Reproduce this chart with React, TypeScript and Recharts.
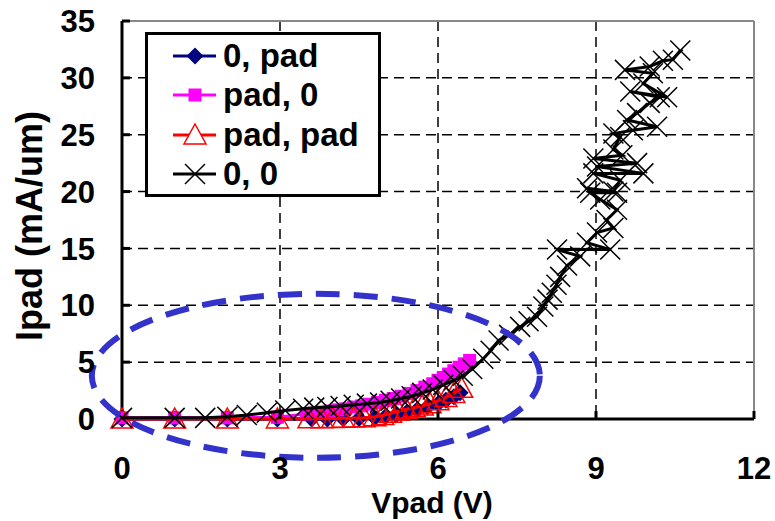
import React from 'react'
import { ScatterChart, Scatter, XAxis, YAxis, CartesianGrid, ReferenceLine, ReferenceDot, Legend } from 'recharts'

const xTicks = [0, 3, 6, 9, 12]
const yTicks = [0, 5, 10, 15, 20, 25, 30, 35]

// "0, pad"
const zeroPad = [
  { x: 0, y: 0 }, { x: 1, y: 0 }, { x: 2, y: 0 }, { x: 2.95, y: 0 },
  { x: 3.6, y: 0 }, { x: 3.9, y: 0 }, { x: 4.2, y: 0.02 }, { x: 4.5, y: 0.05 },
  { x: 4.8, y: 0.1 }, { x: 5.0, y: 0.2 }, { x: 5.2, y: 0.35 }, { x: 5.4, y: 0.55 },
  { x: 5.6, y: 0.8 }, { x: 5.8, y: 1.05 }, { x: 6.0, y: 1.35 }, { x: 6.15, y: 1.65 },
  { x: 6.3, y: 1.95 }, { x: 6.42, y: 2.3 },
]

// "pad, 0"
const padZero = [
  { x: 0, y: 0.1 }, { x: 1, y: 0.1 }, { x: 2, y: 0.1 }, { x: 2.95, y: 0.15 },
  { x: 3.5, y: 0.45 }, { x: 3.65, y: 0.5 }, { x: 3.8, y: 0.6 }, { x: 3.95, y: 0.7 },
  { x: 4.1, y: 0.8 }, { x: 4.25, y: 0.9 }, { x: 4.4, y: 1.05 }, { x: 4.55, y: 1.15 },
  { x: 4.7, y: 1.3 }, { x: 4.85, y: 1.45 }, { x: 5.0, y: 1.65 }, { x: 5.15, y: 1.8 },
  { x: 5.3, y: 2.0 }, { x: 5.45, y: 2.25 }, { x: 5.6, y: 2.5 }, { x: 5.75, y: 2.8 },
  { x: 5.9, y: 3.1 }, { x: 6.0, y: 3.4 }, { x: 6.1, y: 3.65 }, { x: 6.2, y: 3.95 },
  { x: 6.3, y: 4.25 }, { x: 6.4, y: 4.55 }, { x: 6.5, y: 4.85 }, { x: 6.6, y: 5.15 },
]

// "pad, pad"
const padPad = [
  { x: 0, y: 0 }, { x: 1, y: 0 }, { x: 2, y: 0 }, { x: 2.95, y: 0 },
  { x: 3.55, y: 0.02 }, { x: 3.8, y: 0.03 }, { x: 4.0, y: 0.05 }, { x: 4.2, y: 0.07 },
  { x: 4.4, y: 0.08 }, { x: 4.6, y: 0.12 }, { x: 4.8, y: 0.2 }, { x: 4.95, y: 0.3 },
  { x: 5.1, y: 0.5 }, { x: 5.25, y: 0.7 }, { x: 5.4, y: 0.85 }, { x: 5.55, y: 1.0 },
  { x: 5.7, y: 1.15 }, { x: 5.85, y: 1.35 }, { x: 6.0, y: 1.6 }, { x: 6.15, y: 1.9 },
  { x: 6.3, y: 2.25 }, { x: 6.45, y: 2.7 },
]

// "0, 0"
const zeroZero = [
  { x: 0, y: 0.1 }, { x: 1, y: 0.1 }, { x: 1.58, y: 0.1 }, { x: 2, y: 0.2 },
  { x: 2.37, y: 0.35 }, { x: 2.75, y: 0.55 }, { x: 3.1, y: 0.75 }, { x: 3.44, y: 0.9 },
  { x: 3.65, y: 1.0 }, { x: 3.9, y: 1.05 }, { x: 4.15, y: 1.15 }, { x: 4.4, y: 1.25 },
  { x: 4.65, y: 1.35 }, { x: 4.9, y: 1.45 }, { x: 5.1, y: 1.6 }, { x: 5.3, y: 1.8 },
  { x: 5.5, y: 2.0 }, { x: 5.7, y: 2.3 }, { x: 5.9, y: 2.6 }, { x: 6.1, y: 3.0 },
  { x: 6.3, y: 3.4 }, { x: 6.47, y: 3.8 }, { x: 6.65, y: 4.4 }, { x: 6.86, y: 5.3 },
  { x: 7.0, y: 6.0 }, { x: 7.15, y: 6.9 }, { x: 7.35, y: 7.4 }, { x: 7.56, y: 8.1 },
  { x: 7.72, y: 8.6 }, { x: 7.88, y: 9.0 }, { x: 8.0, y: 9.9 }, { x: 8.08, y: 10.5 },
  { x: 8.16, y: 11.1 }, { x: 8.25, y: 11.8 }, { x: 8.32, y: 12.5 }, { x: 8.45, y: 13.5 },
  { x: 8.7, y: 14.3 }, { x: 8.26, y: 14.9 }, { x: 9.27, y: 14.9 }, { x: 8.83, y: 15.5 },
  { x: 9.02, y: 16.4 }, { x: 9.33, y: 16.8 }, { x: 9.2, y: 17.5 }, { x: 9.4, y: 18.4 },
  { x: 9.08, y: 19.3 }, { x: 8.89, y: 19.9 }, { x: 9.4, y: 19.9 }, { x: 8.83, y: 20.3 },
  { x: 9.33, y: 20.0 }, { x: 9.46, y: 21.0 }, { x: 8.95, y: 21.6 }, { x: 9.9, y: 21.6 },
  { x: 9.02, y: 22.2 }, { x: 9.78, y: 22.5 }, { x: 8.95, y: 22.9 }, { x: 9.5, y: 23.2 },
  { x: 9.33, y: 23.7 }, { x: 9.46, y: 24.8 }, { x: 9.33, y: 25.1 }, { x: 9.7, y: 25.4 },
  { x: 10.16, y: 25.7 }, { x: 9.59, y: 26.3 }, { x: 9.78, y: 26.9 }, { x: 10.02, y: 27.8 },
  { x: 10.21, y: 28.3 }, { x: 9.65, y: 28.8 }, { x: 10.35, y: 28.3 }, { x: 9.9, y: 29.5 },
  { x: 10.08, y: 30.4 }, { x: 9.55, y: 30.7 }, { x: 10.02, y: 31.0 }, { x: 10.27, y: 31.5 },
  { x: 10.46, y: 31.6 }, { x: 10.6, y: 32.4 },
]

const FONT = "'Liberation Sans', Arial, sans-serif"
const font = { fontFamily: FONT, fontWeight: 700, fontSize: 31, fill: '#000' }

const NAVY = '#000080'
const MAGENTA = '#FF00FF'
const RED = '#FF0000'

const Diamond = ({ cx, cy }: any) => (
  <path d={`M${cx},${cy - 8.5}L${cx + 8.5},${cy}L${cx},${cy + 8.5}L${cx - 8.5},${cy}Z`} fill={NAVY} />
)
const Square = ({ cx, cy }: any) => <rect x={cx - 6.5} y={cy - 6.5} width={13} height={13} fill={MAGENTA} />
const Triangle = ({ cx, cy, fill = 'none' }: any) => (
  <path d={`M${cx},${cy - 11}L${cx + 11},${cy + 9}L${cx - 11},${cy + 9}Z`} fill={fill} stroke={RED} strokeWidth={1.5} />
)
const Cross = ({ cx, cy }: any) => (
  <path d={`M${cx - 10},${cy - 10}L${cx + 10},${cy + 10}M${cx + 10},${cy - 10}L${cx - 10},${cy + 10}`} stroke="#000" strokeWidth={1.5} />
)

const legendItems = [
  { name: '0, pad', color: NAVY, mark: (c: number) => <Diamond cx={c} cy={20} /> },
  { name: 'pad, 0', color: MAGENTA, mark: (c: number) => <Square cx={c} cy={20} /> },
  { name: 'pad, pad', color: RED, mark: (c: number) => <Triangle cx={c} cy={20} fill="#fff" /> },
  { name: '0, 0', color: '#000', mark: (c: number) => <Cross cx={c} cy={20} /> },
]

function LegendBox() {
  return (
    <div style={{ border: '3px solid #000', background: '#fff', boxSizing: 'border-box', width: 236, height: 165, paddingTop: 1 }}>
      {legendItems.map((it) => (
        <div key={it.name} style={{ display: 'flex', alignItems: 'center', height: 39.5 }}>
          <svg width={75} height={40} style={{ display: 'block' }}>
            <line x1={25} y1={20} x2={68} y2={20} stroke={it.color} strokeWidth={3} />
            {it.mark(47)}
          </svg>
          <span style={{ fontFamily: FONT, fontWeight: 700, fontSize: 33, lineHeight: '40px' }}>{it.name}</span>
        </div>
      ))}
    </div>
  )
}

const YTick = ({ x, y, payload }: any) => (
  <g>
    {payload.value !== 0 && <line x1={x} y1={y} x2={x + 8} y2={y} stroke="#000" strokeWidth={3} />}
    <text x={x - 27} y={y} dy="0.36em" textAnchor="end" style={font}>{payload.value}</text>
  </g>
)

const XTick = ({ x, y, payload }: any) => (
  <g>
    {payload.value !== 0 && <line x1={x} y1={y} x2={x} y2={y - 8} stroke="#000" strokeWidth={3} />}
    <text x={x} y={y + 49} dy="0.36em" textAnchor="middle" style={font}>{payload.value}</text>
  </g>
)

const Ellipse = ({ cx, cy }: any) => (
  <ellipse cx={cx} cy={cy} rx={224} ry={82} fill="none" stroke="#3333CC" strokeWidth={6} strokeDasharray="24 14" />
)

export default function App() {
  return (
    <div style={{ position: 'absolute', left: 0, top: 0, width: 775, height: 521, background: '#fff' }}>
      <ScatterChart width={775} height={521} margin={{ top: 21, right: 21, bottom: 0, left: 0 }}>
        <CartesianGrid stroke="#000" strokeWidth={1.5} strokeDasharray="10 6" />
        <ReferenceLine y={35} stroke="#888" strokeWidth={2} />
        <ReferenceLine x={12} stroke="#888" strokeWidth={2} />
        <XAxis
          type="number"
          dataKey="x"
          domain={[0, 12]}
          ticks={xTicks}
          height={102}
          tickSize={0}
          tickMargin={0}
          tickLine={false}
          axisLine={{ stroke: '#000', strokeWidth: 3 }}
          tick={<XTick />}
          label={{
            content: ({ viewBox }: any) => (
              <text x={viewBox.x + viewBox.width / 2 - 6} y={viewBox.y + 83} dy="0.36em" textAnchor="middle" style={{ ...font, fontSize: 30 }}>
                Vpad (V)
              </text>
            ),
          }}
        />
        <YAxis
          type="number"
          dataKey="y"
          domain={[0, 35]}
          ticks={yTicks}
          width={122}
          tickSize={0}
          tickMargin={0}
          tickLine={false}
          axisLine={{ stroke: '#000', strokeWidth: 3 }}
          tick={<YTick />}
          label={{
            content: ({ viewBox }: any) => {
              const cx = viewBox.x + 29
              const cy = viewBox.y + viewBox.height / 2 + 6
              return (
                <text x={cx} y={cy} dy="0.36em" textAnchor="middle" transform={`rotate(-90 ${cx} ${cy})`} style={{ ...font, fontSize: 36 }}>
                  Ipad (mA/um)
                </text>
              )
            },
          }}
        />
        <Scatter name="0, pad" data={zeroPad} line={{ stroke: NAVY, strokeWidth: 3 }} shape={<Diamond />} isAnimationActive={false} />
        <Scatter name="pad, 0" data={padZero} line={{ stroke: MAGENTA, strokeWidth: 3 }} shape={<Square />} isAnimationActive={false} />
        <Scatter name="pad, pad" data={padPad} line={{ stroke: RED, strokeWidth: 3 }} shape={<Triangle />} isAnimationActive={false} />
        <Scatter name="0, 0" data={zeroZero} line={{ stroke: '#000', strokeWidth: 3 }} shape={<Cross />} isAnimationActive={false} />
        <ReferenceDot x={3.68} y={3.8} ifOverflow="visible" shape={<Ellipse />} />
        <Legend
          layout="vertical"
          align="center"
          verticalAlign="middle"
          wrapperStyle={{ left: 145, top: 32, width: 236, height: 165 }}
          content={() => <LegendBox />}
        />
      </ScatterChart>
    </div>
  )
}
